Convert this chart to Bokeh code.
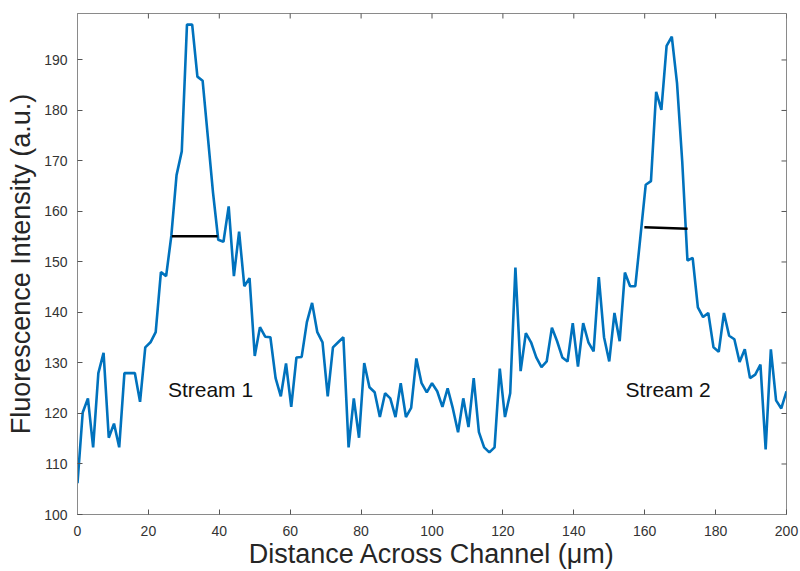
import math
from bokeh.plotting import figure
from bokeh.models import Range1d, Label, FixedTicker
from bokeh.embed import file_html
from bokeh.resources import INLINE

# Fluorescence intensity profile across the channel (a.u.)
intensity = [
    106.2, 120.2, 123.0, 113.3, 128.0, 132.0, 115.2, 118.0, 113.3, 128.0,
    128.0, 128.0, 122.3, 133.1, 134.1, 136.1, 148.0, 147.2, 155.2, 167.2,
    171.9, 197.0, 197.0, 186.7, 185.9, 174.8, 163.7, 154.4, 154.0, 161.0,
    147.2, 156.0, 145.2, 146.8, 131.4, 137.1, 135.2, 135.1, 127.0, 123.4,
    129.9, 121.3, 131.1, 131.2, 138.1, 141.9, 136.1, 134.1, 123.4, 133.1,
    134.1, 135.1, 113.3, 123.0, 115.2, 130.0, 125.2, 124.2, 119.3, 124.0,
    123.0, 119.3, 126.0, 119.3, 121.1, 130.9, 126.0, 124.2, 126.0, 124.4,
    121.3, 125.0, 121.0, 116.3, 123.0, 117.3, 127.0, 116.3, 113.3, 112.3,
    113.3, 128.9, 119.3, 124.0, 148.9, 128.4, 135.9, 134.1, 131.1, 129.2,
    130.3, 137.0, 134.3, 131.1, 130.3, 137.9, 129.3, 137.9, 134.1, 132.3,
    147.0, 135.1, 130.3, 139.9, 134.3, 147.9, 145.2, 145.2, 155.2, 165.3,
    166.0, 183.7, 180.1, 192.8, 194.6, 185.4, 169.9, 150.3, 150.8, 141.0,
    139.1, 139.9, 133.1, 132.2, 139.9, 135.4, 134.7, 130.2, 132.7, 127.0,
    127.7, 129.7, 112.9, 132.7, 122.6, 121.0, 124.4,
]
channel_width = 200
n_samples = len(intensity)
distance = [i * channel_width / (n_samples - 1) for i in range(n_samples)]

x_ticks = [0, 20, 40, 60, 80, 100, 120, 140, 160, 180, 200]
y_ticks = [100, 110, 120, 130, 140, 150, 160, 170, 180, 190]
x_min, x_max = 0, 200
y_min, y_max = 100, 199.2

# Half-maximum width markers
fwhm1_x = [26.6, 39.5]
fwhm1_y = [155.1, 155.1]
fwhm2_x = [159.9, 172.1]
fwhm2_y = [156.9, 156.6]

stream_names = ["Stream 1", "Stream 2"]
stream_x = [25.5, 154.6]
stream_y = [124.8, 124.8]

AXIS_GRAY = "#8a8a8a"
TICK_GRAY = "#555555"
TEXT_GRAY = "#333333"
FONT = "Liberation Sans"

p = figure(width=800, height=571,
           x_range=Range1d(x_min, x_max), y_range=Range1d(y_min, y_max),
           output_backend="svg", toolbar_location=None,
           min_border_left=77, min_border_right=14,
           min_border_top=13, min_border_bottom=57)

p.background_fill_color = "white"
p.border_fill_color = "white"
p.outline_line_color = AXIS_GRAY
p.outline_line_width = 1
p.grid.visible = False

p.line(distance, intensity, line_color="#0072BD", line_width=2.6)
p.line(fwhm1_x, fwhm1_y, line_color="black", line_width=2.5)
p.line(fwhm2_x, fwhm2_y, line_color="black", line_width=2.5)

# Inward tick marks on the top and right edges of the box (clipped to frame)
p.scatter(x_ticks, [y_max] * len(x_ticks), marker="dash", size=10,
          angle=math.pi / 2, line_color=TICK_GRAY, line_width=1)
p.scatter([x_max] * len(y_ticks), y_ticks, marker="dash", size=10,
          angle=0, line_color=TICK_GRAY, line_width=1)

for name, sx, sy in zip(stream_names, stream_x, stream_y):
    p.add_layout(Label(x=sx, y=sy, text=name, text_font=FONT,
                       text_font_size="21px", text_color="#111111",
                       text_baseline="middle", text_align="left"))


def style_axis(ax):
    ax.major_tick_in = 5
    ax.major_tick_out = 0
    ax.minor_tick_line_color = None
    ax.axis_line_color = AXIS_GRAY
    ax.major_tick_line_color = TICK_GRAY
    ax.major_label_text_font = FONT
    ax.major_label_text_color = TEXT_GRAY
    ax.major_label_text_font_size = "14px"
    ax.axis_label_text_font = FONT
    ax.axis_label_text_font_style = "normal"
    ax.axis_label_text_color = "#262626"
    ax.axis_label_text_font_size = "27px"


xa = p.xaxis[0]
xa.ticker = FixedTicker(ticks=x_ticks)
style_axis(xa)
xa.major_label_standoff = 11
xa.axis_label = "Distance Across Channel (μm)"
xa.axis_label_standoff = 0

ya = p.yaxis[0]
ya.ticker = FixedTicker(ticks=y_ticks)
style_axis(ya)
ya.major_label_standoff = 10
ya.axis_label = "Fluorescence Intensity (a.u.)"
ya.axis_label_standoff = 5

open("out.html", "w").write(file_html(p, INLINE))
